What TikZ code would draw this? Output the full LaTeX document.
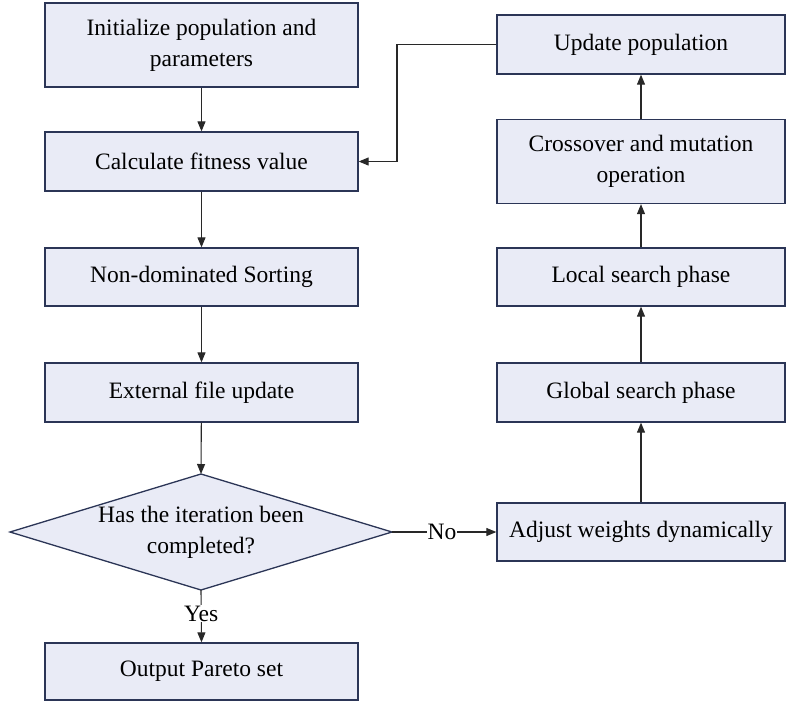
\documentclass[tikz,border=0pt]{standalone}
\usepackage{fontspec}
\setmainfont{Liberation Serif}
\usetikzlibrary{arrows.meta}
\definecolor{boxfill}{RGB}{233,235,246}
\definecolor{boxdraw}{RGB}{43,53,86}
\definecolor{linec}{RGB}{40,40,40}
\begin{document}
\begin{tikzpicture}[x=1pt,y=-1pt,
  every node/.style={font=\fontsize{23.5}{31}\selectfont},
  procbox/.style={draw=boxdraw,fill=boxfill,line width=1.3pt,rectangle,minimum width=313pt,align=center,inner sep=0pt},
  rbox/.style={procbox,minimum width=288pt},
  decision/.style={draw=boxdraw,fill=boxfill,line width=1.3pt,line join=miter},
  conn/.style={draw=linec,line width=1.1pt,-{Triangle[length=10pt,width=8pt]}},
  lab/.style={fill=white,inner sep=1pt}
]
\useasboundingbox (0,0) rectangle (800,702);
% left column
\node[procbox,minimum height=84pt] (init) at (201.5,45) {Initialize population and\\parameters};
\node[procbox,minimum height=59pt] (calc) at (201.5,161.5) {Calculate fitness value};
\node[procbox,minimum height=58pt] (sort) at (201.5,277) {Non-dominated Sorting};
\node[procbox,minimum height=59pt] (ext) at (201.5,392.5) {External file update};
% decision diamond
\coordinate (dtop) at (201,474);
\coordinate (dbot) at (201,590);
\coordinate (dleft) at (10,532);
\coordinate (dright) at (392,532);
\draw[decision] (dtop) -- (dright) -- (dbot) -- (dleft) -- cycle;
\node[align=center,inner sep=0pt] (dec) at (201,532) {Has the iteration been\\completed?};
\node[procbox,minimum height=57pt] (out) at (201.5,671.5) {Output Pareto set};
% right column
\node[rbox,minimum height=59pt] (upd) at (641,44.5) {Update population};
\node[rbox,minimum height=84pt] (cross) at (641,161.5) {Crossover and mutation\\operation};
\node[rbox,minimum height=58pt] (local) at (641,277) {Local search phase};
\node[rbox,minimum height=59pt] (global) at (641,392.5) {Global search phase};
\node[rbox,minimum height=58pt] (adj) at (641,532) {Adjust weights dynamically};
% connectors
\draw[conn] (init) -- (calc);
\draw[conn] (calc) -- (sort);
\draw[conn] (sort) -- (ext);
\draw[conn] (ext) -- (dtop);
\draw[conn] (dbot) -- (out.north) node[lab,pos=0.45] {Yes};
\draw[conn] (dright) -- (adj.west) node[lab,pos=0.48] {No};
\draw[conn] (adj) -- (global);
\draw[conn] (global) -- (local);
\draw[conn] (local) -- (cross);
\draw[conn] (cross) -- (upd);
\coordinate (c1) at (397,44.5);
\coordinate (c2) at (397,161.5);
\draw[conn] (upd.west) -- (c1) -- (c2) -- (calc.east);
\end{tikzpicture}
\end{document}
